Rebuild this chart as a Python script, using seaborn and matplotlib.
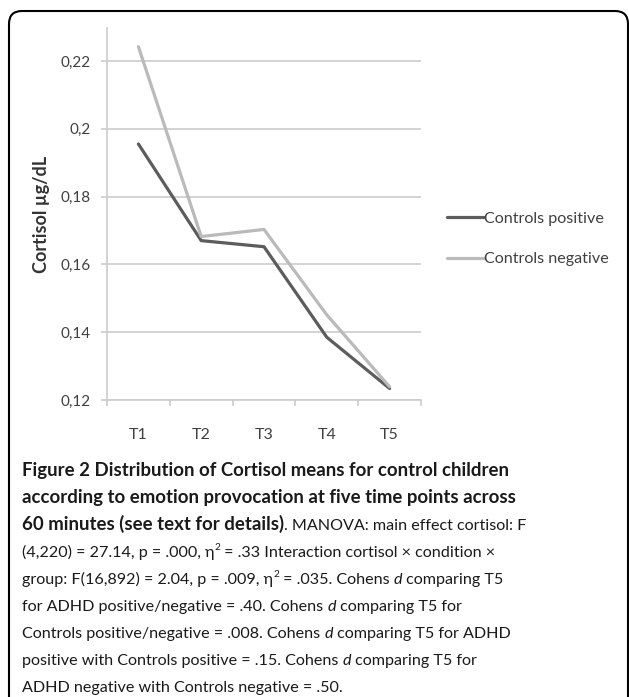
import matplotlib
matplotlib.use("Agg")
import pandas as pd
import seaborn as sns
import matplotlib.pyplot as plt
from matplotlib.patches import FancyBboxPatch
from matplotlib.ticker import FixedLocator

# data
times = ["T1", "T2", "T3", "T4", "T5"]
controls_positive = [0.1955, 0.1670, 0.1652, 0.1385, 0.1234]
controls_negative = [0.2242, 0.1682, 0.1703, 0.1451, 0.1239]
group_names = ["Controls positive", "Controls negative"]
y_ticks = [0.12, 0.14, 0.16, 0.18, 0.20, 0.22]
y_tick_labels = ["0,12", "0,14", "0,16", "0,18", "0,2", "0,22"]

caption_lines = [
    [("Figure 2 Distribution of Cortisol means for control children", "b")],
    [("according to emotion provocation at five time points across", "b")],
    [("60 minutes (see text for details)", "b"), (". MANOVA: main effect cortisol: F", "r")],
    [("(4,220) = 27.14, p = .000, \u03b7", "r"), ("2", "sup"),
     (" = .33 Interaction cortisol \u00d7 condition \u00d7", "r")],
    [("group: F(16,892) = 2.04, p = .009, \u03b7", "r"), ("2", "sup"),
     (" = .035. Cohens ", "r"), ("d", "i"), (" comparing T5", "r")],
    [("for ADHD positive/negative = .40. Cohens ", "r"), ("d", "i"), (" comparing T5 for", "r")],
    [("Controls positive/negative = .008. Cohens ", "r"), ("d", "i"), (" comparing T5 for ADHD", "r")],
    [("positive with Controls positive = .15. Cohens ", "r"), ("d", "i"), (" comparing T5 for", "r")],
    [("ADHD negative with Controls negative = .50.", "r")],
]

df = pd.DataFrame({
    "Time": times * 2,
    "Cortisol": controls_positive + controls_negative,
    "Group": [group_names[0]] * len(times) + [group_names[1]] * len(times),
})

sns.set_theme(style="white")
plt.rcParams["font.family"] = ["Lato", "DejaVu Sans"]

W, H = 629, 697
fig = plt.figure(figsize=(W / 100, H / 100), dpi=100)
ax = fig.add_axes([107 / W, 1 - 400 / H, 314 / W, 372 / H])

palette = {group_names[0]: "#5c5c5c", group_names[1]: "#bababa"}
sns.lineplot(data=df, x="Time", y="Cortisol", hue="Group", palette=palette,
             sort=False, linewidth=2.3, ax=ax)

ax.set_xlim(-0.5, 4.5)
ax.set_ylim(0.12, 0.2297)
ax.set_yticks(y_ticks)
ax.set_yticklabels(y_tick_labels)
ax.set_xlabel("")
ax.set_ylabel("Cortisol \u00b5g/dL", fontsize=13, fontweight="bold", color="#333333")
ax.yaxis.set_label_coords(-0.182, 0.5)

grid_col = "#cccccc"
ax.grid(axis="y", color=grid_col, linewidth=1.2)
ax.grid(axis="x", visible=False)
for s in ["top", "right"]:
    ax.spines[s].set_visible(False)
for s in ["left", "bottom"]:
    ax.spines[s].set_color(grid_col)
    ax.spines[s].set_linewidth(1.2)

ax.tick_params(axis="y", which="major", length=4, width=1.2, color=grid_col,
               pad=8, labelsize=11, labelcolor="#404040", left=True)
ax.tick_params(axis="x", which="major", length=0, pad=20, labelsize=11.5, labelcolor="#404040")
ax.xaxis.set_minor_locator(FixedLocator([-0.5, 0.5, 1.5, 2.5, 3.5, 4.5]))
ax.tick_params(axis="x", which="minor", length=4, width=1.2, color=grid_col, bottom=True)

leg = ax.legend(loc="center left", bbox_to_anchor=(447 / W, 1 - 239 / H),
                bbox_transform=fig.transFigure, frameon=False, fontsize=11.6,
                handlelength=2.3, handletextpad=0.0, labelspacing=1.6,
                borderpad=0, borderaxespad=0)
for t in leg.get_texts():
    t.set_color("#404040")
for h in leg.get_lines():
    h.set_linewidth(2.3)

# rounded border around the whole figure
box = FancyBboxPatch((0.09, -0.5), 6.19, 6.86 + 0.5,
                     boxstyle="round,pad=0,rounding_size=0.13",
                     transform=fig.dpi_scale_trans, fill=False,
                     edgecolor="black", linewidth=1.5, clip_on=False)
fig.patches.append(box)

# caption, drawn segment by segment
fig.canvas.draw()
renderer = fig.canvas.get_renderer()
reg_size = 11.6
bold_size = 13.4
styles = {
    "r": dict(fontsize=reg_size),
    "b": dict(fontsize=bold_size, fontweight="bold"),
    "i": dict(fontsize=reg_size, fontstyle="italic"),
    "sup": dict(fontsize=reg_size * 0.62),
}


def seg_width(txt, props):
    t = fig.text(0, 0, "|" + txt + "|", **props)
    w1 = t.get_window_extent(renderer).width
    t.remove()
    t = fig.text(0, 0, "||", **props)
    w2 = t.get_window_extent(renderer).width
    t.remove()
    return w1 - w2


x0 = 22
base0 = 476
line_gap = 27
for i, line in enumerate(caption_lines):
    x = x0
    yb = base0 + i * line_gap
    for txt, st in line:
        props = styles[st]
        dy = -7 if st == "sup" else 0
        fig.text(x / W, 1 - (yb + dy) / H, txt, va="baseline", ha="left",
                 color="#1a1a1a", **props)
        x += seg_width(txt, props)

fig.savefig("out.png", dpi=100)
